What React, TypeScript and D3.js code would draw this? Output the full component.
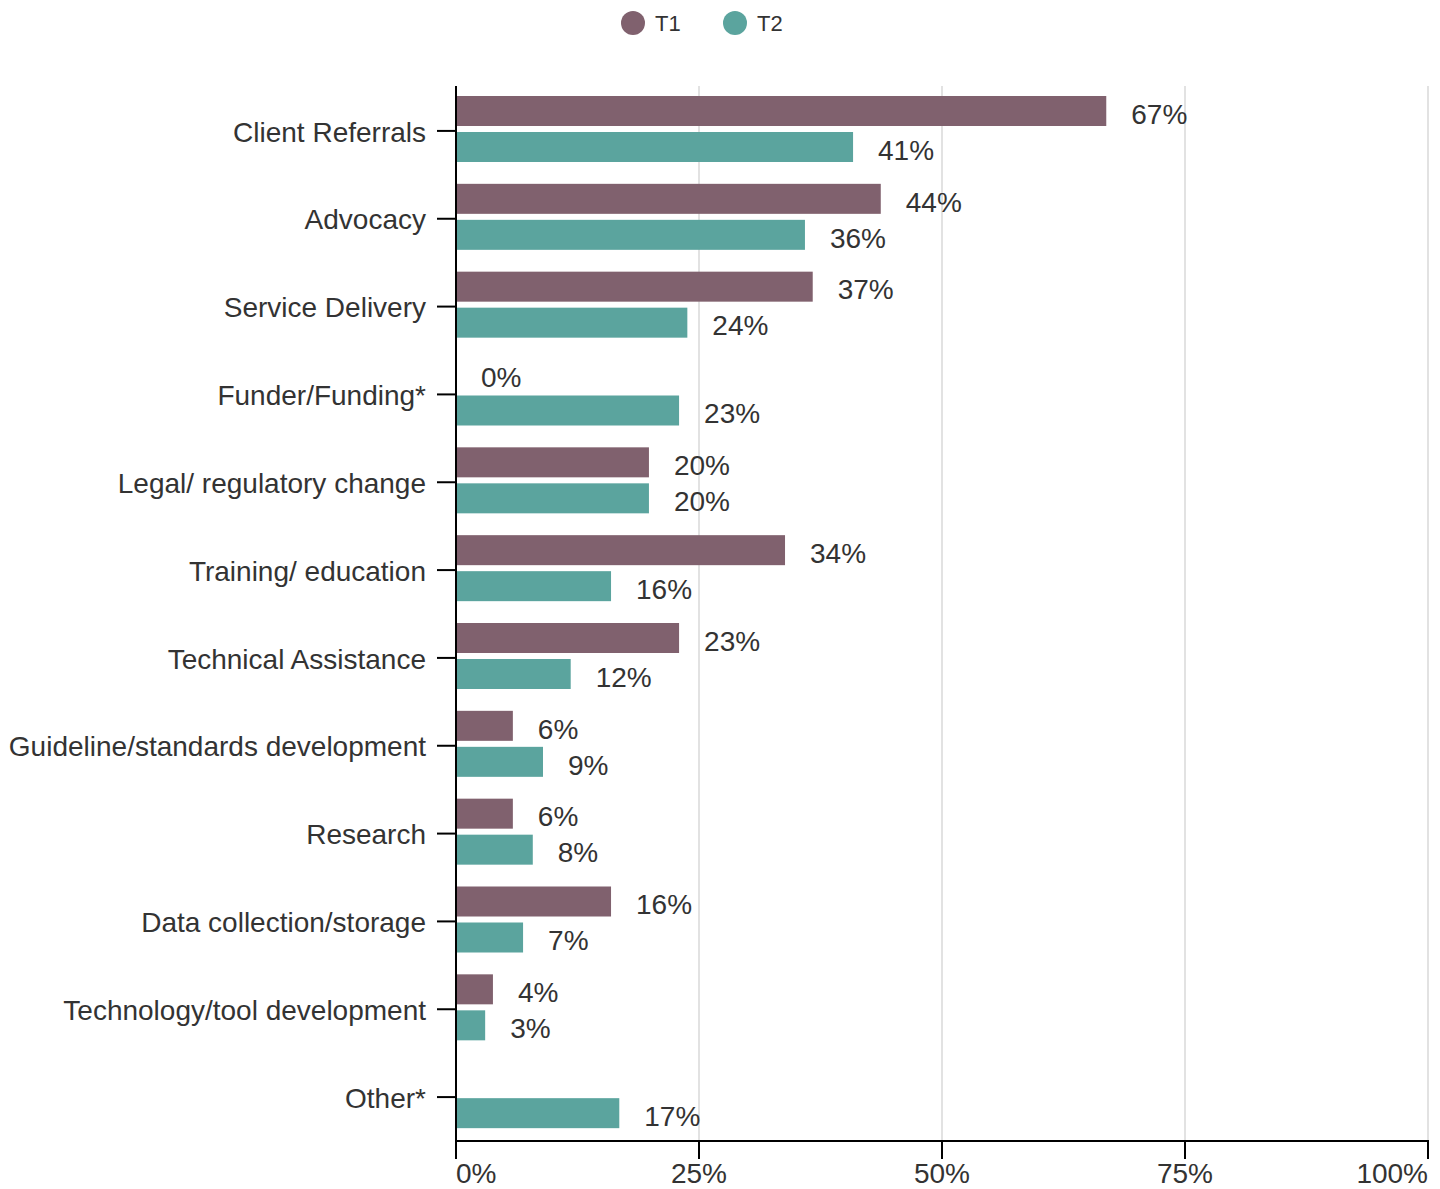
import React from "react";
import * as d3 from "d3";

const categories: string[] = [
  "Client Referrals",
  "Advocacy",
  "Service Delivery",
  "Funder/Funding*",
  "Legal/ regulatory change",
  "Training/ education",
  "Technical Assistance",
  "Guideline/standards development",
  "Research",
  "Data collection/storage",
  "Technology/tool development",
  "Other*",
];
const seriesNames: string[] = ["T1", "T2"];
const t1Values: (number | null)[] = [66.9, 43.7, 36.7, 0, 19.85, 33.85, 22.95, 5.85, 5.85, 15.95, 3.8, null];
const t2Values: (number | null)[] = [40.85, 35.9, 23.8, 22.95, 19.85, 15.95, 11.8, 8.95, 7.9, 6.9, 3.0, 16.8];
const xTicks: number[] = [0, 25, 50, 75, 100];
const colors: string[] = ["#80616e", "#5ba49e"];

const W = 1440;
const H = 1189;
const FONT = "'Liberation Sans', Arial, sans-serif";
const TEXT = "#333333";

export default function App() {
  const x = d3.scaleLinear().domain([0, 100]).range([456, 1428]);
  const y = d3.scaleBand<string>().domain(categories).range([87, 1141]).padding(0);
  const inner = d3
    .scaleBand<string>()
    .domain(seriesNames)
    .range([9, 75])
    .paddingInner(1 / 6)
    .paddingOuter(0);
  const series = [t1Values, t2Values];
  const bw = inner.bandwidth();

  return (
    <div style={{ position: "absolute", left: 0, top: 0 }}>
      <svg width={W} height={H} style={{ display: "block", fontFamily: FONT }}>
        <rect x={0} y={0} width={W} height={H} fill="#ffffff" />
        {/* legend */}
        {seriesNames.map((s, i) => (
          <g key={s} transform={`translate(${633 + i * 102},23)`}>
            <circle cx={0} cy={0} r={12} fill={colors[i]} />
            <text x={22} y={0} dy="0.36em" fontSize={22} fill={TEXT}>
              {s}
            </text>
          </g>
        ))}
        {/* grid lines */}
        {xTicks
          .filter((t) => t > 0)
          .map((t) => (
            <line
              key={t}
              x1={x(t)}
              x2={x(t)}
              y1={86}
              y2={1141}
              stroke="#e2e2e2"
              strokeWidth={2}
            />
          ))}
        {/* bars */}
        {categories.map((c, ci) => (
          <g key={c} transform={`translate(0,${y(c)})`}>
            {series.map((vals, si) => {
              const v = vals[ci];
              if (v === null || v === undefined) return null;
              const by = inner(seriesNames[si]) as number;
              return (
                <g key={si}>
                  {v > 0 && (
                    <rect
                      x={x(0) + 1}
                      y={by}
                      width={Math.max(0, x(v) - x(0) - 1)}
                      height={bw}
                      fill={colors[si]}
                    />
                  )}
                  <text
                    x={x(v) + 25}
                    y={by + bw / 2 + 3}
                    dy="0.35em"
                    fontSize={28}
                    fill={TEXT}
                  >
                    {`${Math.round(v)}%`}
                  </text>
                </g>
              );
            })}
          </g>
        ))}
        {/* y axis */}
        <line x1={456} x2={456} y1={86} y2={1141} stroke="#000" strokeWidth={2} />
        {categories.map((c) => {
          const cy = (y(c) as number) + y.bandwidth() / 2;
          return (
            <g key={c}>
              <line x1={437} x2={456} y1={cy} y2={cy} stroke="#000" strokeWidth={2} />
              <text
                x={426}
                y={cy}
                dy="0.38em"
                textAnchor="end"
                fontSize={28}
                fill={TEXT}
              >
                {c}
              </text>
            </g>
          );
        })}
        {/* x axis */}
        <line x1={455} x2={1429} y1={1141} y2={1141} stroke="#000" strokeWidth={2} />
        {xTicks.map((t, i) => (
          <g key={t}>
            <line x1={x(t)} x2={x(t)} y1={1141} y2={1159} stroke="#000" strokeWidth={2} />
            <text
              x={x(t)}
              y={1183}
              textAnchor={i === 0 ? "start" : i === xTicks.length - 1 ? "end" : "middle"}
              fontSize={28}
              fill={TEXT}
            >
              {`${t}%`}
            </text>
          </g>
        ))}
      </svg>
    </div>
  );
}
